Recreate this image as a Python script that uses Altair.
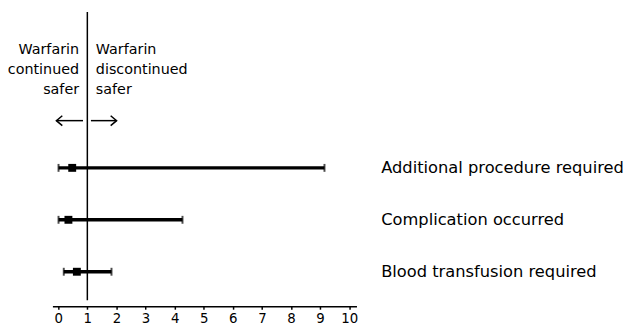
import altair as alt
import pandas as pd

outcomes = ["Additional procedure required", "Complication occurred", "Blood transfusion required"]
row = [3, 2, 1]
estimate = [0.48, 0.35, 0.64]
lower = [0.01, 0.01, 0.19]
upper = [9.15, 4.27, 1.83]
tick_values = [0, 1, 2, 3, 4, 5, 6, 7, 8, 9, 10]

df = pd.DataFrame({"outcome": outcomes, "row": row, "est": estimate, "lo": lower, "hi": upper})

FONT = "DejaVu Sans"
xscale = alt.Scale(domain=[-0.2, 10.25], nice=False, zero=False)
yscale = alt.Scale(domain=[0.45, 6.0], nice=False, zero=False)

xaxis = alt.Axis(values=tick_values, grid=False, domainColor="black", domainWidth=1.5,
                 tickColor="black", tickWidth=1.5, tickSize=3, labelColor="black",
                 labelFont=FONT, labelFontSize=13.5, labelPadding=2, offset=6, title=None,
                 labelFlush=False, labelOverlap=False)


def X(field):
    return alt.X(field, scale=xscale, axis=xaxis)


def Y(field):
    return alt.Y(field, scale=yscale, axis=None)


base = alt.Chart(df)

ref = alt.Chart(pd.DataFrame({"v": [1]})).mark_rule(color="black", strokeWidth=1.5).encode(
    x=X("v:Q"))

bars = base.mark_rule(color="black", strokeWidth=3.5).encode(
    x=X("lo:Q"), x2="hi:Q", y=Y("row:Q"))
caps_lo = base.mark_tick(color="black", orient="vertical", size=8, thickness=2).encode(
    x=X("lo:Q"), y=Y("row:Q"))
caps_hi = base.mark_tick(color="black", orient="vertical", size=8, thickness=2).encode(
    x=X("hi:Q"), y=Y("row:Q"))
pts = base.mark_square(color="black", size=64, opacity=1).encode(
    x=X("est:Q"), y=Y("row:Q"))

labels = base.mark_text(align="left", baseline="middle", font=FONT, fontSize=16.5, color="black").encode(
    x=alt.value(333), y=Y("row:Q"), text="outcome:N")

one = pd.DataFrame({"t": [0]})
left_txt = alt.Chart(one).mark_text(
    align="right", baseline="top", font=FONT, fontSize=14.5, lineHeight=20, color="black",
    text=["Warfarin", "continued", "safer"]).encode(x=alt.value(27), y=alt.value(32))
right_txt = alt.Chart(one).mark_text(
    align="left", baseline="top", font=FONT, fontSize=14.5, lineHeight=20, color="black",
    text=["Warfarin", "discontinued", "safer"]).encode(x=alt.value(44), y=alt.value(32))

arrow_l = alt.Chart(one).mark_rule(color="black", strokeWidth=1.5).encode(
    x=alt.value(4), x2=alt.value(31), y=alt.value(110))
arrow_r = alt.Chart(one).mark_rule(color="black", strokeWidth=1.5).encode(
    x=alt.value(39), x2=alt.value(65), y=alt.value(110))
head_l = alt.Chart(one).mark_point(
    shape="M0.2,-1L-1,0L0.2,1", size=100, filled=False, color="black", strokeWidth=1.5, opacity=1
).encode(x=alt.value(9), y=alt.value(110))
head_r = alt.Chart(one).mark_point(
    shape="M-0.2,-1L1,0L-0.2,1", size=100, filled=False, color="black", strokeWidth=1.5, opacity=1
).encode(x=alt.value(60), y=alt.value(110))

chart = alt.layer(ref, bars, caps_lo, caps_hi, pts, labels, left_txt, right_txt,
                  arrow_l, arrow_r, head_l, head_r).properties(
    width=308, height=292,
    padding={"left": 45, "top": 2, "right": 272, "bottom": 30},
    autosize=alt.AutoSizeParams(type="none"),
).configure(background="white").configure_view(stroke=None, strokeWidth=0)

chart.save("out.html", embed_options={"renderer": "svg", "actions": False})
